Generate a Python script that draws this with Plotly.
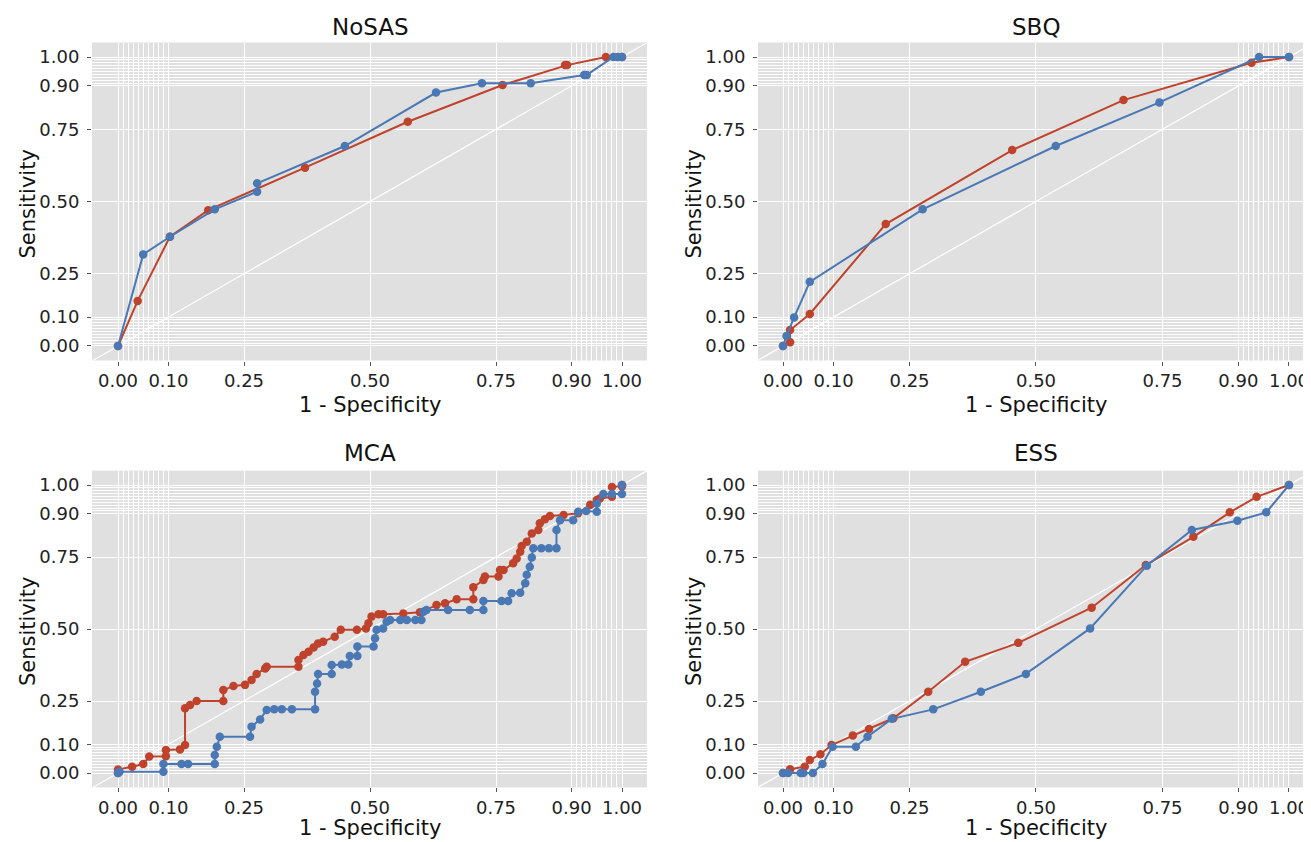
import plotly.graph_objects as go

# ---------------- data ----------------
PANEL_TITLES = ["NoSAS", "SBQ", "MCA", "ESS"]
X_LABEL = "1 - Specificity"
Y_LABEL = "Sensitivity"

TICK_VALS = [0.0, 0.10, 0.25, 0.50, 0.75, 0.90, 1.00]
TICK_TEXT = ["0.00", "0.10", "0.25", "0.50", "0.75", "0.90", "1.00"]
MINOR_VALS = [0.01, 0.02, 0.03, 0.04, 0.05, 0.06, 0.07, 0.08, 0.09,
              0.91, 0.92, 0.93, 0.94, 0.95, 0.96, 0.97, 0.98, 0.99]
DIAG = [-0.06, 1.06]

# NoSAS
nosas_red_x = [0, 0.039, 0.103, 0.179, 0.371, 0.575, 0.763, 0.887, 0.891, 0.968, 1.0]
nosas_red_y = [0, 0.156, 0.378, 0.470, 0.617, 0.776, 0.903, 0.972, 0.972, 1.0, 1.0]
nosas_blue_x = [0, 0.05, 0.103, 0.192, 0.276, 0.276, 0.45, 0.631, 0.722, 0.819,
                0.925, 0.93, 0.983, 0.991, 1.0]
nosas_blue_y = [0, 0.317, 0.378, 0.473, 0.534, 0.563, 0.692, 0.877, 0.909, 0.909,
                0.938, 0.938, 1.0, 1.0, 1.0]

# SBQ
sbq_red_x = [0, 0.014, 0.014, 0.053, 0.203, 0.453, 0.673, 0.926, 1.0]
sbq_red_y = [0, 0.013, 0.055, 0.111, 0.422, 0.678, 0.851, 0.980, 1.0]
sbq_blue_x = [0, 0.007, 0.022, 0.053, 0.276, 0.539, 0.744, 0.941, 1.0]
sbq_blue_y = [0, 0.035, 0.099, 0.222, 0.473, 0.692, 0.843, 1.0, 1.0]

# MCA
mca_red_x = [0, 0, 0.028, 0.05, 0.062, 0.095, 0.095, 0.123, 0.133, 0.133, 0.143, 0.156,
             0.209, 0.209, 0.229, 0.252, 0.265, 0.275, 0.292, 0.295, 0.358, 0.358, 0.368,
             0.378, 0.388, 0.397, 0.407, 0.43, 0.442, 0.474, 0.492, 0.497, 0.503, 0.517,
             0.526, 0.566, 0.599, 0.632, 0.649, 0.672, 0.705, 0.705, 0.725, 0.728, 0.755,
             0.758, 0.765, 0.784, 0.791, 0.798, 0.801, 0.811, 0.821, 0.834, 0.837, 0.847,
             0.857, 0.884, 0.913, 0.937, 0.95, 0.956, 0.98, 0.98, 1.0, 1.0]
mca_red_y = [0, 0.012, 0.022, 0.031, 0.057, 0.058, 0.08, 0.082, 0.097, 0.225, 0.236, 0.25,
             0.25, 0.288, 0.302, 0.306, 0.323, 0.344, 0.363, 0.369, 0.369, 0.392, 0.41,
             0.421, 0.436, 0.45, 0.456, 0.473, 0.497, 0.497, 0.502, 0.52, 0.543, 0.551,
             0.551, 0.554, 0.558, 0.583, 0.589, 0.603, 0.603, 0.645, 0.67, 0.682, 0.682,
             0.705, 0.705, 0.728, 0.745, 0.768, 0.788, 0.803, 0.832, 0.844, 0.867, 0.881,
             0.892, 0.896, 0.902, 0.931, 0.948, 0.953, 0.959, 0.993, 0.996, 1.0]
mca_blue_x = [0, 0.003, 0.09, 0.09, 0.126, 0.139, 0.192, 0.192, 0.196, 0.202, 0.262, 0.265,
              0.282, 0.295, 0.31, 0.325, 0.345, 0.391, 0.391, 0.395, 0.397, 0.424, 0.424,
              0.444, 0.457, 0.46, 0.475, 0.475, 0.507, 0.51, 0.513, 0.526, 0.533, 0.54,
              0.56, 0.573, 0.59, 0.602, 0.606, 0.612, 0.655, 0.698, 0.725, 0.725, 0.761,
              0.774, 0.781, 0.798, 0.808, 0.811, 0.817, 0.821, 0.824, 0.84, 0.855, 0.87,
              0.87, 0.877, 0.903, 0.913, 0.929, 0.95, 0.95, 0.963, 0.98, 1.0, 1.0]
mca_blue_y = [0, 0.004, 0.004, 0.031, 0.031, 0.031, 0.031, 0.0625, 0.091, 0.126, 0.126, 0.161,
              0.186, 0.219, 0.221, 0.221, 0.221, 0.221, 0.282, 0.311, 0.344, 0.344, 0.375,
              0.377, 0.377, 0.406, 0.406, 0.439, 0.439, 0.468, 0.497, 0.502, 0.525, 0.531,
              0.531, 0.531, 0.531, 0.531, 0.56, 0.566, 0.566, 0.566, 0.566, 0.597, 0.597,
              0.597, 0.624, 0.626, 0.659, 0.688, 0.716, 0.748, 0.78, 0.78, 0.78, 0.78,
              0.844, 0.878, 0.878, 0.907, 0.91, 0.907, 0.936, 0.969, 0.969, 0.969, 1.0]

# ESS
ess_red_x = [0, 0.014, 0.043, 0.053, 0.074, 0.096, 0.138, 0.17, 0.218, 0.287, 0.36, 0.465,
             0.61, 0.717, 0.811, 0.883, 0.936, 1.0]
ess_red_y = [0, 0.013, 0.022, 0.045, 0.065, 0.097, 0.13, 0.153, 0.19, 0.282, 0.386, 0.452,
             0.574, 0.722, 0.82, 0.905, 0.959, 1.0]
ess_blue_x = [0, 0.01, 0.035, 0.04, 0.059, 0.078, 0.098, 0.144, 0.167, 0.215, 0.297, 0.391,
              0.48, 0.607, 0.719, 0.808, 0.898, 0.955, 1.0]
ess_blue_y = [0, 0, 0, 0, 0, 0.031, 0.091, 0.091, 0.126, 0.188, 0.221, 0.282, 0.344, 0.502,
              0.72, 0.844, 0.876, 0.905, 1.0]

SERIES = [
    (nosas_red_x, nosas_red_y, nosas_blue_x, nosas_blue_y),
    (sbq_red_x, sbq_red_y, sbq_blue_x, sbq_blue_y),
    (mca_red_x, mca_red_y, mca_blue_x, mca_blue_y),
    (ess_red_x, ess_red_y, ess_blue_x, ess_blue_y),
]

# ---------------- style ----------------
# the page body has an 8px margin, so the figure is drawn 8px in from the window corner
OFF = 8
W, H = 1311 - OFF, 842 - OFF
RED = "#BF432C"
BLUE = "#4A78B4"
BG = "#E0E0E0"
FONT = "DejaVu Sans"
TICK_SIZE = 18
LABEL_SIZE = 21
TITLE_SIZE = 23

# pixel boxes in window coordinates (left, right, top, bottom) of the four plotting areas
BOXES = [(92, 647, 42.5, 360.5), (758, 1311, 42.5, 360.5),
         (92, 647, 470.6, 787.4), (758, 1311, 470.6, 787.4)]
TITLE_GAP = [15.5, 15.5, 17.5, 17.5]
X_RANGES = [[-0.0516, 1.0496], [-0.0494, 1.0435], [-0.0516, 1.0496], [-0.0494, 1.0435]]
Y_RANGES = [[-0.0502, 1.0502], [-0.0502, 1.0502], [-0.05, 1.05], [-0.05, 1.05]]

fig = go.Figure()
layout = dict(
    width=W, height=H,
    margin=dict(l=0, r=0, t=0, b=0),
    paper_bgcolor="white", plot_bgcolor=BG,
    showlegend=False,
    font=dict(family=FONT, color="#222222"),
    annotations=[],
)

for i, (rx, ry, bx, by) in enumerate(SERIES):
    n = "" if i == 0 else str(i + 1)
    xa, ya = "x" + n, "y" + n
    l, r, t, b = [v - OFF for v in BOXES[i]]
    xdom = [l / W, min(r / W, 1.0)]
    ydom = [1 - b / H, 1 - t / H]
    axis_common = dict(
        tickmode="array", tickvals=TICK_VALS, ticktext=TICK_TEXT,
        showgrid=True, gridcolor="white", gridwidth=1.3,
        zeroline=False, showline=False,
        ticks="outside", ticklen=4, tickwidth=1, tickcolor="#555555",
        tickfont=dict(family=FONT, size=TICK_SIZE, color="#222222"),
        minor=dict(tickmode="array", tickvals=MINOR_VALS, showgrid=True,
                   gridcolor="white", gridwidth=0.8, ticks=""),
    )
    layout["xaxis" + n] = dict(domain=xdom, range=X_RANGES[i], anchor=ya,
                               ticklabelstandoff=0, **axis_common)
    layout["yaxis" + n] = dict(domain=ydom, range=Y_RANGES[i], anchor=xa,
                               ticklabelstandoff=4, **axis_common)

    fig.add_trace(go.Scatter(x=DIAG, y=DIAG, mode="lines", xaxis=xa, yaxis=ya,
                             line=dict(color="white", width=1.2), hoverinfo="skip"))
    fig.add_trace(go.Scatter(x=rx, y=ry, mode="lines+markers", xaxis=xa, yaxis=ya,
                             line=dict(color=RED, width=2),
                             marker=dict(color=RED, size=8.5)))
    fig.add_trace(go.Scatter(x=bx, y=by, mode="lines+markers", xaxis=xa, yaxis=ya,
                             line=dict(color=BLUE, width=2),
                             marker=dict(color=BLUE, size=8.5)))

    cx = l + 278
    layout["annotations"].append(dict(
        text=PANEL_TITLES[i], xref="paper", yref="paper",
        x=cx / W, y=1 - (t - TITLE_GAP[i]) / H, xanchor="center", yanchor="middle",
        showarrow=False, font=dict(family=FONT, size=TITLE_SIZE, color="#111111")))
    if i < 2:
        xl = dict(y=1 - (b + 45) / H, yanchor="middle")
    else:
        # bottom row: keep the label fully inside the page
        xl = dict(y=0, yanchor="bottom")
    layout["annotations"].append(dict(
        text=X_LABEL, xref="paper", yref="paper",
        x=cx / W, xanchor="center", **xl,
        showarrow=False, font=dict(family=FONT, size=LABEL_SIZE, color="#111111")))
    layout["annotations"].append(dict(
        text=Y_LABEL, xref="paper", yref="paper", textangle=-90,
        x=(l - 64) / W, y=1 - ((t + b) / 2 + 3) / H, xanchor="center", yanchor="middle",
        showarrow=False, font=dict(family=FONT, size=LABEL_SIZE, color="#111111")))

fig.update_layout(**layout)
fig.write_html("out.html")
